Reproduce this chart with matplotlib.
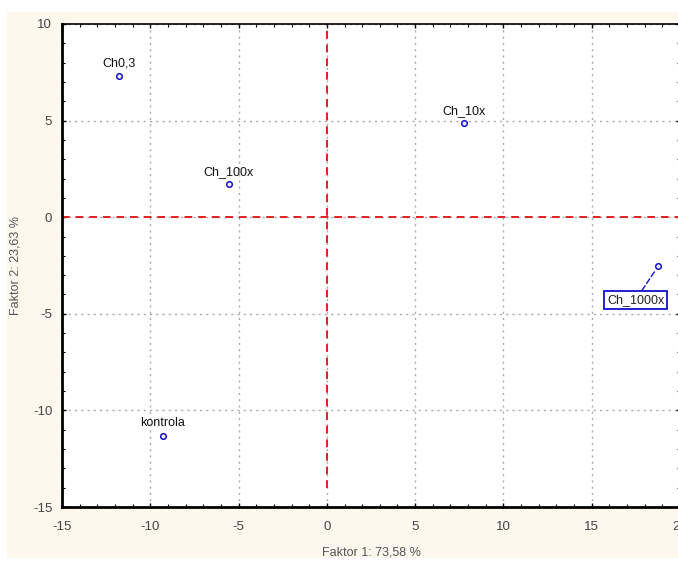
import matplotlib
matplotlib.use('Agg')
import matplotlib.pyplot as plt
from matplotlib.patches import Rectangle
from matplotlib.ticker import MultipleLocator

# PCA scores
names = ['Ch0,3', 'Ch_100x', 'Ch_10x', 'kontrola', 'Ch_1000x']
f1 = [-11.8, -5.55, 7.75, -9.3, 18.75]
f2 = [7.3, 1.7, 4.85, -11.3, -2.55]

plt.rcParams['font.family'] = ['Liberation Sans', 'DejaVu Sans']

fig = plt.figure(figsize=(6.78, 5.64), dpi=100)
fig.patch.set_facecolor('white')
# cream panel behind the plot
fig.patches.append(Rectangle((7 / 678, 6 / 564), 1, 546 / 564, transform=fig.transFigure,
                             facecolor='#fcf8ee', edgecolor='none', zorder=-10))

W, H = 678, 564
ax = fig.add_axes([62 / W, 1 - 507 / H, 618 / W, 483 / H])
ax.set_facecolor('white')

ax.set_xlim(-15, 20)
ax.set_ylim(-15, 10)
ax.xaxis.set_minor_locator(MultipleLocator(1))
ax.yaxis.set_minor_locator(MultipleLocator(1))
ax.set_xticks([-15, -10, -5, 0, 5, 10, 15, 20])
ax.set_xticklabels(['-15', '-10', '-5', '0', '5', '10', '15', '20'])
ax.set_yticks([-15, -10, -5, 0, 5, 10])
ax.set_yticklabels(['-15', '-10', '-5', '0', '5', '10'])
ax.tick_params(which='both', direction='in', top=True, right=True, colors='black',
               labelcolor='#444444', labelsize=9.5)
ax.tick_params(which='major', length=3, width=1)
ax.tick_params(which='minor', length=2, width=0.8)
ax.tick_params(axis='x', pad=10)
ax.tick_params(axis='y', pad=7)

ax.grid(True, which='major', color='#aaaaaa', linestyle=(0, (1.5, 3)), linewidth=1)
for side in ['left', 'bottom']:
    ax.spines[side].set_linewidth(2)
ax.spines['top'].set_linewidth(1.2)
ax.spines['right'].set_linewidth(1)

# zero reference lines
ax.axhline(0, color='#e02020', linestyle=(0, (4, 3)), linewidth=1.4, zorder=2)
ax.axvline(0, ymin=1 / 25, color='#e02020', linestyle=(0, (4, 3)), linewidth=1.4, zorder=2)

ax.plot(f1, f2, linestyle='none', marker='o', markersize=4, markerfacecolor='white',
        markeredgecolor='#1010cc', markeredgewidth=1.1, zorder=4)

for name, x, y in zip(names, f1, f2):
    if name == 'Ch_1000x':
        ax.annotate(name, (x, y), xytext=(-16, -24), textcoords='offset points',
                    ha='center', va='center', fontsize=9, color='#222222',
                    bbox=dict(boxstyle='square,pad=0.22', facecolor='white', edgecolor='#1010cc', linewidth=1.3),
                    arrowprops=dict(arrowstyle='-', color='#1010cc', linestyle=(0, (4, 2)), linewidth=1,
                                    shrinkA=0, shrinkB=3),
                    zorder=5, annotation_clip=False)
    else:
        ax.annotate(name, (x, y), xytext=(0, 9), textcoords='offset points',
                    ha='center', va='center', fontsize=9, color='#111111', zorder=5)

ax.set_xlabel('Faktor 1: 73,58 %', fontsize=9, color='#555555', labelpad=10)
ax.set_ylabel('Faktor 2: 23,63 %', fontsize=9, color='#555555', labelpad=8)

fig.savefig('out.png', dpi=100, facecolor=fig.get_facecolor())
